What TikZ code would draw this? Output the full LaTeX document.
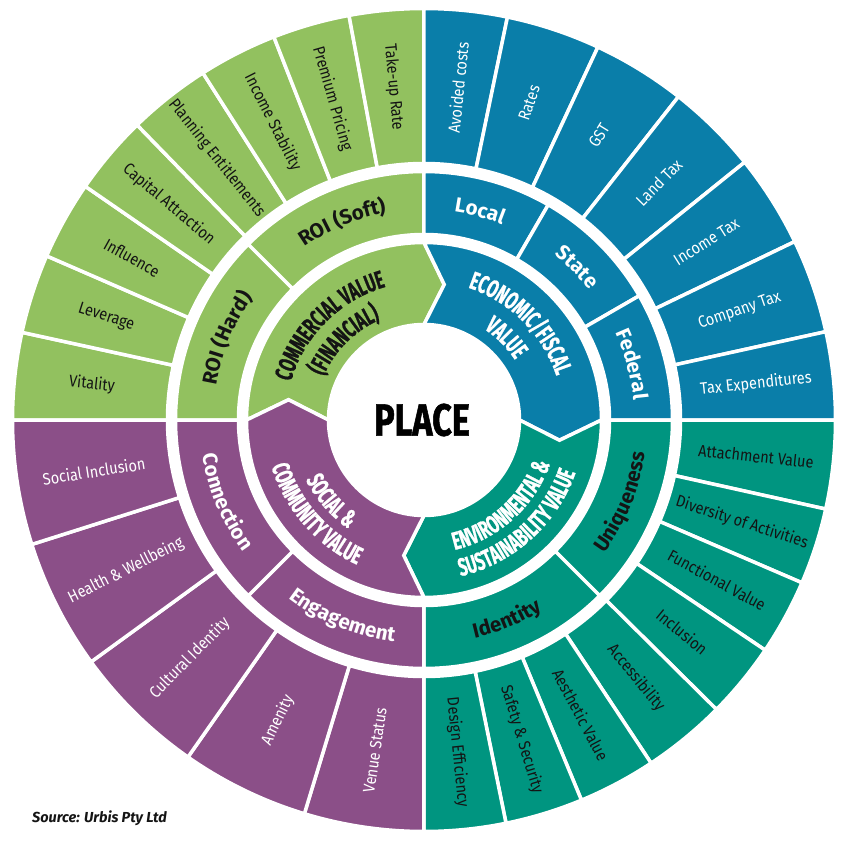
\documentclass[tikz,border=0pt]{standalone}
\usepackage{fontspec}
\usetikzlibrary{decorations.text}
\setmainfont{Fira Sans}
\newfontfamily\outerfont{Fira Sans}[FakeStretch=0.88]
\newfontfamily\condfont{Fira Sans}[FakeStretch=0.62,FakeBold=0.8]
\newfontfamily\placefont{Fira Sans}[FakeStretch=0.76,FakeBold=1.2]
\newcommand\innerfnt{\condfont\bfseries\fontsize{25}{25}\selectfont}
\newcommand\midfnt{\bfseries\fontsize{20.5}{21}\selectfont}
\definecolor{cgreen}{HTML}{92C15F}
\definecolor{cblue}{HTML}{0A7EA9}
\definecolor{cteal}{HTML}{009580}
\definecolor{cpurple}{HTML}{8B4F88}
\definecolor{cdark}{HTML}{141414}
\tikzset{
  seg/.style={draw=white, line width=3.5pt, line join=miter},
  outertext/.style={font=\outerfont\fontsize{16.5}{18}\selectfont, inner sep=0pt},
}
\newcommand\sector[5]{\fill[#1,seg] (#2:#5) arc[start angle=#2,end angle=#3,radius=#5] -- (#3:#4) arc[start angle=#3,end angle=#2,radius=#4] -- cycle;}
\newcommand\quadpiece[3]{\fill[#1,seg] (#3:177.5) arc[start angle=#3,end angle=#2,radius=177.5] -- ({#2-8.5}:137) -- (#2:95.5) arc[start angle=#2,end angle=#3,radius=95.5] -- ({#3-8.5}:137) -- cycle;}
\newcommand\olabel[5]{%
  \pgfmathsetmacro\midang{(#2+#3)/2}%
  \pgfmathsetmacro\rotang{ifthenelse(and(\midang>90,\midang<270),\midang-180,\midang)}%
  \node[outertext,#5,rotate=\rotang] (#1) at (\midang:334) {#4};}
% curved text: start angle, end angle, baseline radius, font, colour, text
\newcommand\arctext[6]{\path[decorate, decoration={text along path, text align=center, text color=#5, text={|#4|#6}}] (#1:#3) arc[start angle=#1, end angle=#2, radius=#3];}
\begin{document}
\begin{tikzpicture}[x=1pt,y=1pt]
\useasboundingbox (-424,-429) rectangle (422,420);
% outer ring
\sector{cgreen}{167.7}{180}{256.5}{411.5}
\sector{cgreen}{156.5}{167.7}{256.5}{411.5}
\sector{cgreen}{145.4}{156.5}{256.5}{411.5}
\sector{cgreen}{134.2}{145.4}{256.5}{411.5}
\sector{cgreen}{122.5}{134.2}{256.5}{411.5}
\sector{cgreen}{111.4}{122.5}{256.5}{411.5}
\sector{cgreen}{100.5}{111.4}{256.5}{411.5}
\sector{cgreen}{90}{100.5}{256.5}{411.5}
\sector{cblue}{78.3}{90}{256.5}{411.5}
\sector{cblue}{65}{78.3}{256.5}{411.5}
\sector{cblue}{51.8}{65}{256.5}{411.5}
\sector{cblue}{38.8}{51.8}{256.5}{411.5}
\sector{cblue}{25.7}{38.8}{256.5}{411.5}
\sector{cblue}{12.4}{25.7}{256.5}{411.5}
\sector{cblue}{0}{12.4}{256.5}{411.5}
\sector{cteal}{-12.5}{0}{256.5}{411.5}
\sector{cteal}{-23.3}{-12.5}{256.5}{411.5}
\sector{cteal}{-34}{-23.3}{256.5}{411.5}
\sector{cteal}{-44.7}{-34}{256.5}{411.5}
\sector{cteal}{-56.5}{-44.7}{256.5}{411.5}
\sector{cteal}{-67.5}{-56.5}{256.5}{411.5}
\sector{cteal}{-78.5}{-67.5}{256.5}{411.5}
\sector{cteal}{-90}{-78.5}{256.5}{411.5}
\sector{cpurple}{253.1}{270}{256.5}{411.5}
\sector{cpurple}{235}{253.1}{256.5}{411.5}
\sector{cpurple}{216}{235}{256.5}{411.5}
\sector{cpurple}{197.6}{216}{256.5}{411.5}
\sector{cpurple}{180}{197.6}{256.5}{411.5}
% middle ring
\sector{cgreen}{135}{180}{185.5}{248.5}
\sector{cgreen}{90}{135}{185.5}{248.5}
\sector{cblue}{60}{90}{185.5}{248.5}
\sector{cblue}{30}{60}{185.5}{248.5}
\sector{cblue}{0}{30}{185.5}{248.5}
\sector{cteal}{-45}{0}{185.5}{248.5}
\sector{cteal}{-90}{-45}{185.5}{248.5}
\sector{cpurple}{225}{270}{185.5}{248.5}
\sector{cpurple}{180}{225}{185.5}{248.5}
% inner ring
\quadpiece{cgreen}{90}{180}
\quadpiece{cblue}{0}{90}
\quadpiece{cteal}{-90}{0}
\quadpiece{cpurple}{180}{270}
% outer labels
\olabel{vitality}{167.7}{180}{Vitality}{text=cdark}
\olabel{leverage}{156.5}{167.7}{Leverage}{text=cdark}
\olabel{influence}{145.4}{156.5}{Influence}{text=cdark}
\olabel{capital}{134.2}{145.4}{Capital Attraction}{text=cdark}
\olabel{planning}{122.5}{134.2}{Planning Entitlements}{text=cdark}
\olabel{income}{111.4}{122.5}{Income Stability}{text=cdark}
\olabel{premium}{100.5}{111.4}{Premium Pricing}{text=cdark}
\olabel{takeup}{90}{100.5}{Take-up Rate}{text=cdark}
\olabel{avoided}{78.3}{90}{Avoided costs}{text=white}
\olabel{rates}{65}{78.3}{Rates}{text=white}
\olabel{gst}{51.8}{65}{GST}{text=white}
\olabel{landtax}{38.8}{51.8}{Land Tax}{text=white}
\olabel{incometax}{25.7}{38.8}{Income Tax}{text=white}
\olabel{companytax}{12.4}{25.7}{Company Tax}{text=white}
\olabel{taxexp}{0}{12.4}{Tax Expenditures}{text=white}
\olabel{attachment}{-12.5}{0}{Attachment Value}{text=cdark}
\olabel{diversity}{-23.3}{-12.5}{Diversity of Activities}{text=cdark}
\olabel{functional}{-34}{-23.3}{Functional Value}{text=cdark}
\olabel{inclusion}{-44.7}{-34}{Inclusion}{text=cdark}
\olabel{accessibility}{-56.5}{-44.7}{Accessibility}{text=cdark}
\olabel{aesthetic}{-67.5}{-56.5}{Aesthetic Value}{text=cdark}
\olabel{safety}{-78.5}{-67.5}{Safety \& Security}{text=cdark}
\olabel{design}{-90}{-78.5}{Design Efficiency}{text=cdark}
\olabel{venue}{253.1}{270}{Venue Status}{text=white}
\olabel{amenity}{235}{253.1}{Amenity}{text=white}
\olabel{cultural}{216}{235}{Cultural Identity}{text=white}
\olabel{health}{197.6}{216}{Health \& Wellbeing}{text=white}
\olabel{socialinc}{180}{197.6}{Social Inclusion}{text=white}
% middle labels (curved)
\arctext{180}{135}{210.5}{\midfnt}{cdark}{ROI (Hard)}
\arctext{135}{90}{210.5}{\midfnt}{cdark}{ROI (Soft)}
\arctext{90}{60}{210.5}{\midfnt}{white}{Local}
\arctext{60}{30}{210.5}{\midfnt}{white}{State}
\arctext{30}{0}{210.5}{\midfnt}{white}{Federal}
\arctext{-45}{0}{224}{\midfnt}{cdark}{Uniqueness}
\arctext{-90}{-45}{224}{\midfnt}{cdark}{Identity}
\arctext{225}{270}{224}{\midfnt}{white}{Engagement}
\arctext{180}{225}{224}{\midfnt}{white}{Connection}
% inner labels (curved)
\arctext{180}{90}{138.5}{\innerfnt}{cdark}{COMMERCIAL VALUE}
\arctext{180}{90}{109.5}{\innerfnt}{cdark}{(FINANCIAL)}
\arctext{90}{0}{139.5}{\innerfnt}{white}{ECONOMIC/FISCAL}
\arctext{90}{0}{109}{\innerfnt}{white}{VALUE}
\arctext{-93}{-3}{133.5}{\innerfnt}{white}{ENVIRONMENTAL {\&}}
\arctext{-93}{-3}{160.5}{\innerfnt}{white}{SUSTAINABILITY VALUE}
\arctext{176}{266}{132.5}{\innerfnt}{white}{SOCIAL {\&}}
\arctext{176}{266}{159.5}{\innerfnt}{white}{COMMUNITY VALUE}
% centre
\node[font=\placefont\bfseries\fontsize{45}{45}\selectfont, text=black, inner sep=0pt] (place) at (-2,0) {PLACE};
\node[anchor=west, font=\itshape\bfseries\fontsize{14.5}{16}\selectfont, text=cdark, inner sep=0pt] (source) at (-392,-398) {Source: Urbis Pty Ltd};
\end{tikzpicture}
\end{document}
